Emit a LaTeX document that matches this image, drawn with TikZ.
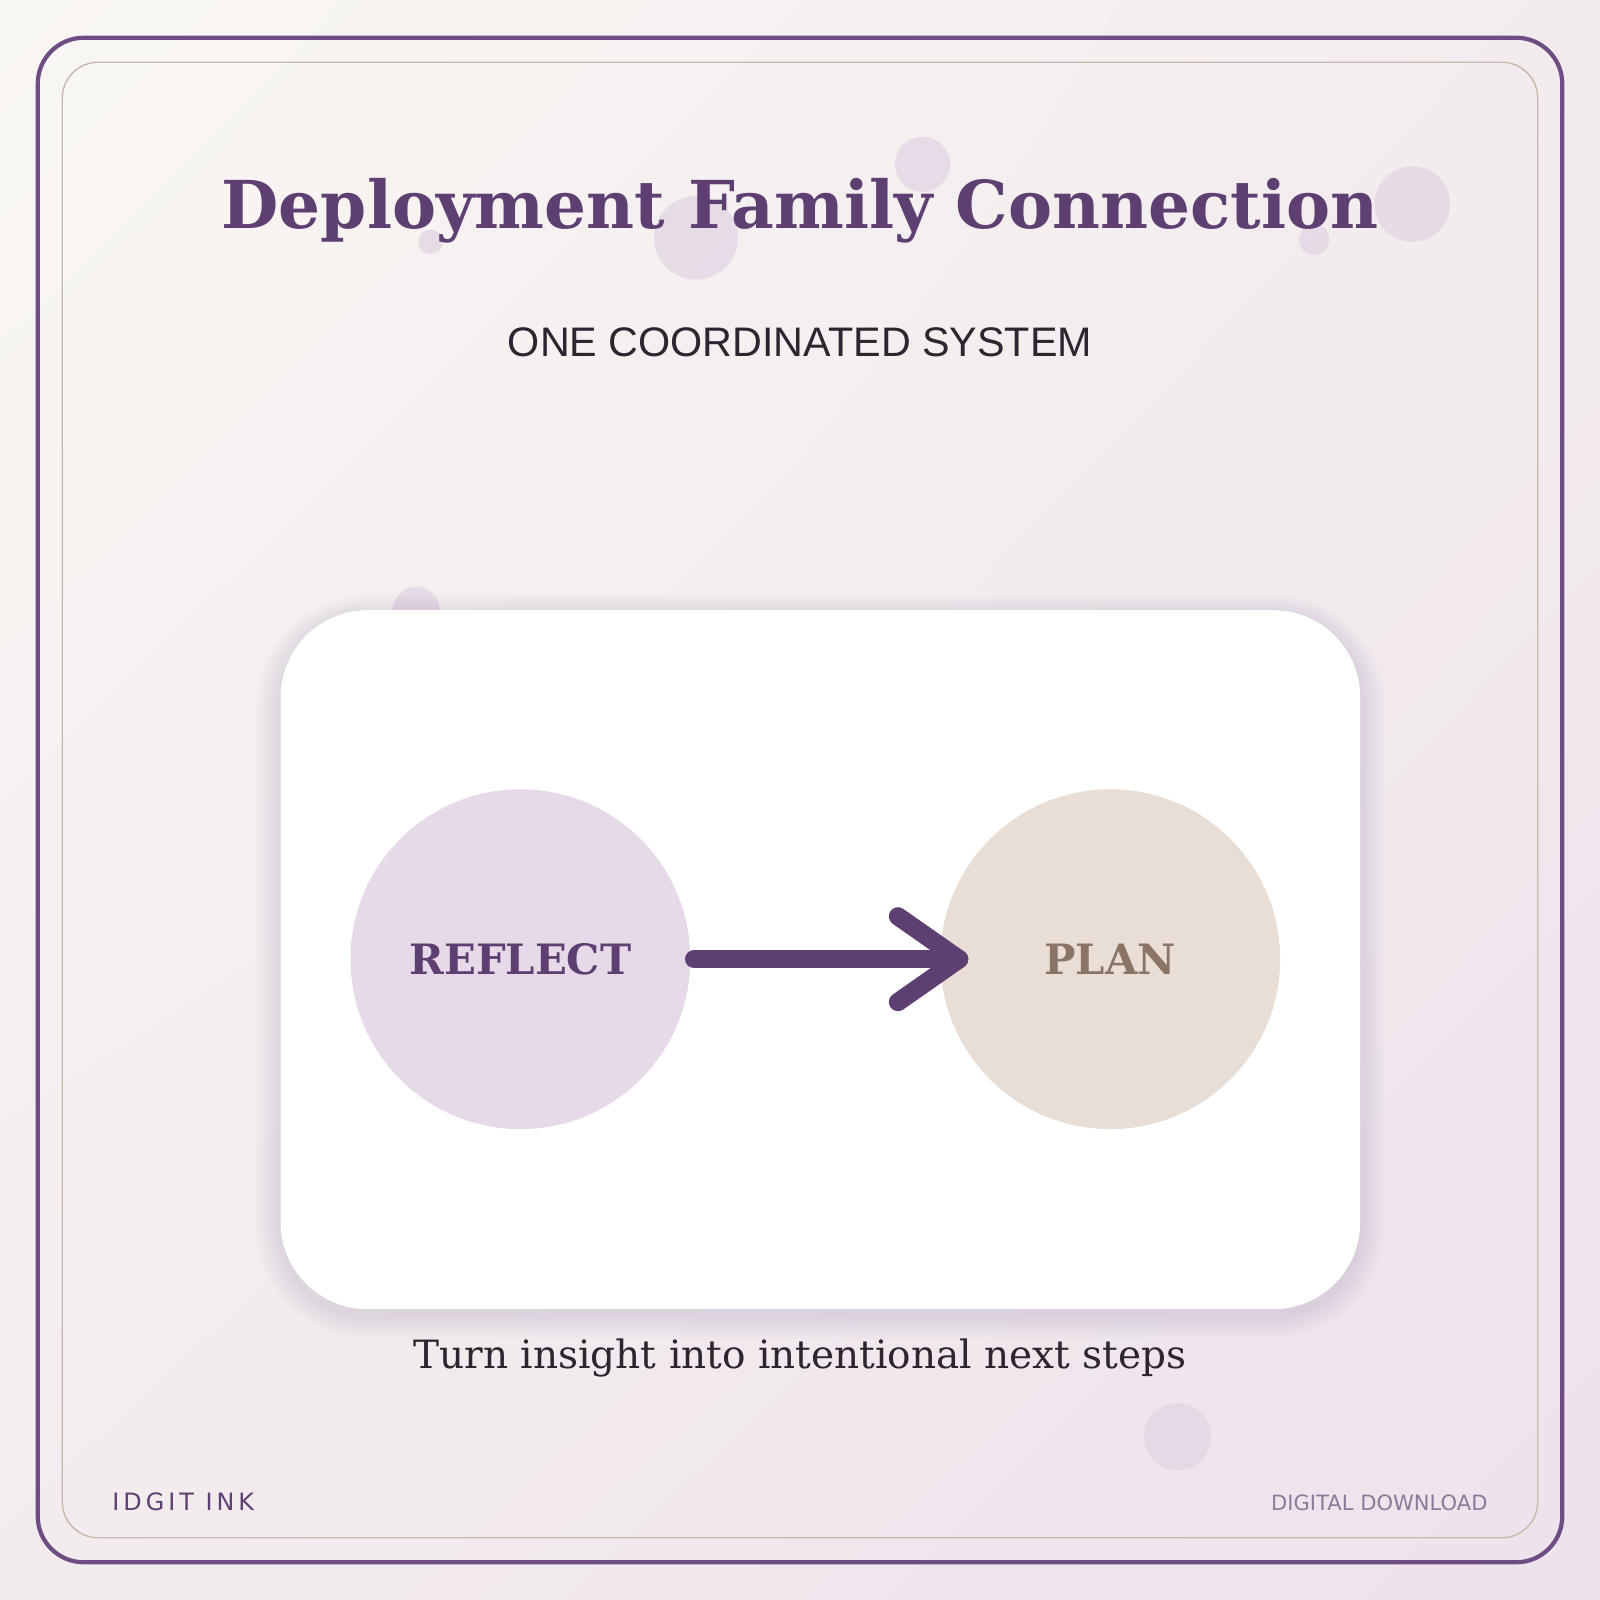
\documentclass[tikz,border=0pt]{standalone}
\usepackage{fontspec}
\setmainfont{DejaVu Serif}
\newfontfamily\arialf{Liberation Sans}
\newfontfamily\dejasans{DejaVu Sans}
\usetikzlibrary{shadings}
\definecolor{bgA}{HTML}{F9F7F3}
\definecolor{bgB}{HTML}{EDE2EC}
\definecolor{bgM}{HTML}{F2ECEE}
\definecolor{purp}{HTML}{5E3F72}
\definecolor{frame}{HTML}{6E4D85}
\definecolor{tan}{HTML}{C9B8AC}
\definecolor{lav}{HTML}{E6DAE8}
\definecolor{beige}{HTML}{E8DED6}
\definecolor{brownt}{HTML}{8A7466}
\definecolor{dot}{HTML}{E2D5E3}
\definecolor{dark}{HTML}{2E2530}
\definecolor{shad}{HTML}{8E6F9E}
\tikzset{deco/.style={fill=dot,opacity=0.75}}
\begin{document}
\begin{tikzpicture}[x=0.010204cm,y=-0.010204cm]
\path[use as bounding box] (0,0) rectangle (1568,1568);
\shade[upper left=bgA,upper right=bgM,lower left=bgM,lower right=bgB] (0,0) rectangle (1568,1568);
\foreach \x/\y/\r in {904/161/27,682/233/41,422/237/12,1384/200/37,1288/235/15,408/598/23,1154/1408/33}
  \fill[deco] (\x,\y) circle (\r);
\draw[frame,line width=1.2pt,rounded corners=0.46cm] (37,37) rectangle (1531,1531);
\draw[tan,line width=0.4pt,rounded corners=0.36cm] (61,61) rectangle (1507,1507);
\node[font=\bfseries\fontsize{18.8}{23}\selectfont,text=purp] (title) at (784,207) {Deployment Family Connection};
\node[font=\arialf\fontsize{11.75}{14}\selectfont,text=dark] (sub) at (784,335) {ONE COORDINATED SYSTEM};
\foreach \i in {1,...,8}
  \fill[shad,opacity=0.025,rounded corners=0.87cm+\i*0.3mm] (275-\i*3,598-\i*2.5+5) rectangle (1333+\i*3,1283+\i*3+5);
\fill[white,rounded corners=0.87cm] (275,598) rectangle (1333,1283);
\node[circle,fill=lav,minimum size=3.40cm,font=\bfseries\fontsize{11.9}{14}\selectfont,text=purp] (reflect) at (510,940) {REFLECT};
\node[circle,fill=beige,minimum size=3.40cm,font=\bfseries\fontsize{11.9}{14}\selectfont,text=brownt] (plan) at (1088,940) {PLAN};
\coordinate (tip) at (940,940);
\draw[purp,line width=5.2pt,line cap=round,line join=round] (reflect.east)++(3,0) -- (tip);
\draw[purp,line width=5.2pt,line cap=round,line join=round] (880,898) -- (tip) -- (880,982);
\node[font=\fontsize{11.1}{13}\selectfont,text=dark] (cap) at (784,1331) {Turn insight into intentional next steps};
\node[font=\dejasans\fontsize{6.8}{8}\selectfont,text=purp,anchor=west] (brand) at (98,1472) {I\,D\,G\,I\,T\, I\,N\,K};
\node[font=\dejasans\fontsize{6}{7}\selectfont,text=purp!70,anchor=east] (dl) at (1470,1473) {DIGITAL DOWNLOAD};
\end{tikzpicture}
\end{document}
